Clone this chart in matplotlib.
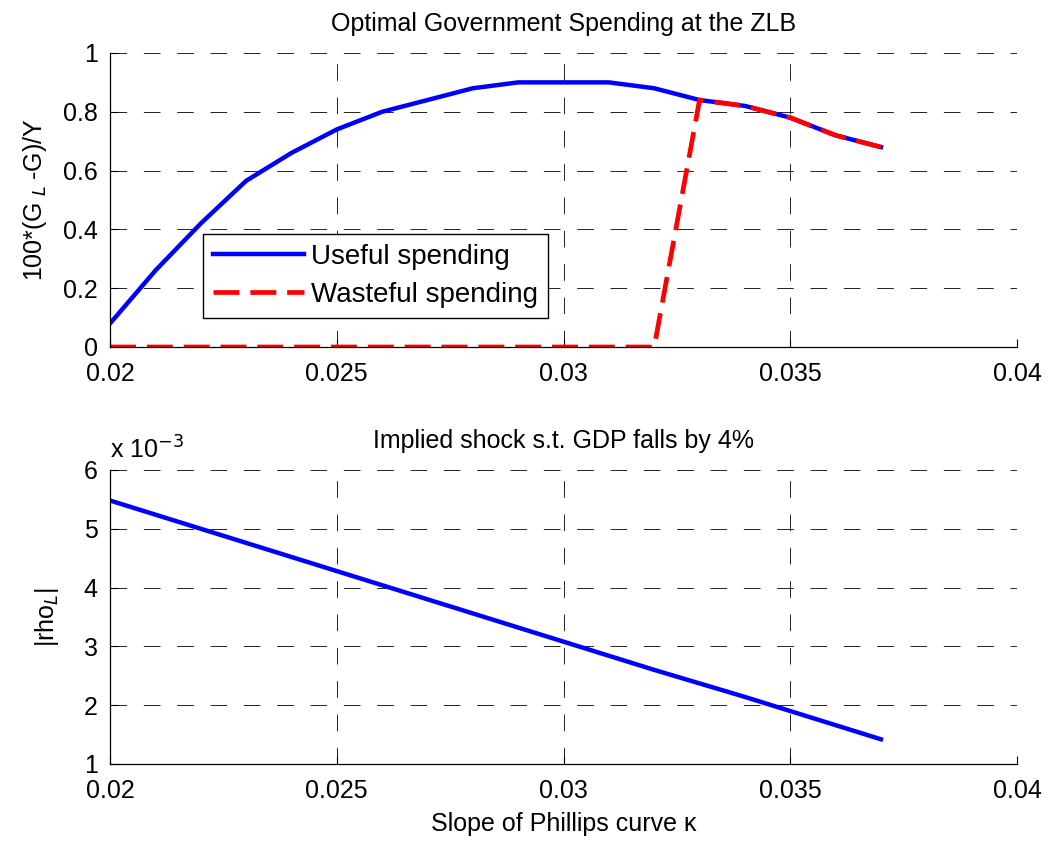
import numpy as np
import matplotlib
matplotlib.use('Agg')
import matplotlib.pyplot as plt

plt.rcParams['font.family'] = ['Liberation Sans', 'DejaVu Sans']

kappa = [0.020, 0.021, 0.022, 0.023, 0.024, 0.025, 0.026, 0.027, 0.028,
         0.029, 0.030, 0.031, 0.032, 0.033, 0.034, 0.035, 0.036, 0.037]
useful = [0.08, 0.26, 0.42, 0.565, 0.66, 0.74, 0.80, 0.84, 0.88,
          0.90, 0.90, 0.90, 0.88, 0.84, 0.82, 0.78, 0.72, 0.68]
wasteful = [0, 0, 0, 0, 0, 0, 0, 0, 0,
            0, 0, 0, 0, 0.84, 0.82, 0.78, 0.72, 0.68]
# |rho_L| in units of 1e-3
rho = [5.48, 5.24, 5.00, 4.76, 4.52, 4.28, 4.04, 3.80, 3.56,
       3.32, 3.08, 2.84, 2.60, 2.37, 2.14, 1.90, 1.66, 1.42]

fs = 18
fig = plt.figure(figsize=(10.53, 8.41), dpi=100)
ax1 = fig.add_axes([0.1045, 0.5874, 0.8613, 0.3496])
ax2 = fig.add_axes([0.1045, 0.0916, 0.8613, 0.3496])

def style(ax):
    ax.grid(True, color='black', linestyle=(0, (20, 20)), linewidth=0.6)
    ax.tick_params(direction='in', labelsize=fs, length=6, width=0.8, pad=9)
    ax.tick_params(axis='x', pad=11)
    ax.spines['top'].set_visible(False)
    ax.spines['right'].set_visible(False)
    for s in ['left', 'bottom']:
        ax.spines[s].set_linewidth(0.9)
    ax.set_xlim(0.02, 0.04)
    ax.set_xticks([0.02, 0.025, 0.03, 0.035, 0.04])
    ax.set_xticklabels(['0.02', '0.025', '0.03', '0.035', '0.04'])

ax1.plot(kappa, useful, color='#0000ff', linewidth=3.2, label='Useful spending')
ax1.plot(kappa, wasteful, color='#ff0000', linewidth=3.4, linestyle=(0, (5.5, 2.3)),
         label='Wasteful spending')
style(ax1)
ax1.set_ylim(0, 1)
ax1.set_yticks([0, 0.2, 0.4, 0.6, 0.8, 1])
ax1.set_yticklabels(['0', '0.2', '0.4', '0.6', '0.8', '1'])
ax1.set_title('Optimal Government Spending at the ZLB', fontsize=fs, pad=16)
ax1.set_ylabel('100*(G$_{\\ L\\ }$-G)/Y', fontsize=fs, labelpad=10)
leg = ax1.legend(loc='lower left', bbox_to_anchor=(0.1025, 0.099), fontsize=20,
                 fancybox=False, framealpha=1, edgecolor='black', borderpad=0.35,
                 handlelength=3.3, handletextpad=0.25, labelspacing=0.45,
                 borderaxespad=0)
leg.get_frame().set_linewidth(1.0)

ax2.plot(kappa, rho, color='#0000ff', linewidth=3.2)
style(ax2)
ax2.set_ylim(1, 6)
ax2.set_yticks([1, 2, 3, 4, 5, 6])
ax2.set_title('Implied shock s.t. GDP falls by 4%', fontsize=fs, pad=16)
ax2.set_ylabel('|rho$_{L}$|', fontsize=fs, labelpad=16)
ax2.set_xlabel('Slope of Phillips curve κ', fontsize=fs, labelpad=6)
ax2.text(0.0, 1.02, 'x 10$^{-3}$', transform=ax2.transAxes, fontsize=fs,
         ha='left', va='bottom')

fig.savefig('out.png', dpi=100)
